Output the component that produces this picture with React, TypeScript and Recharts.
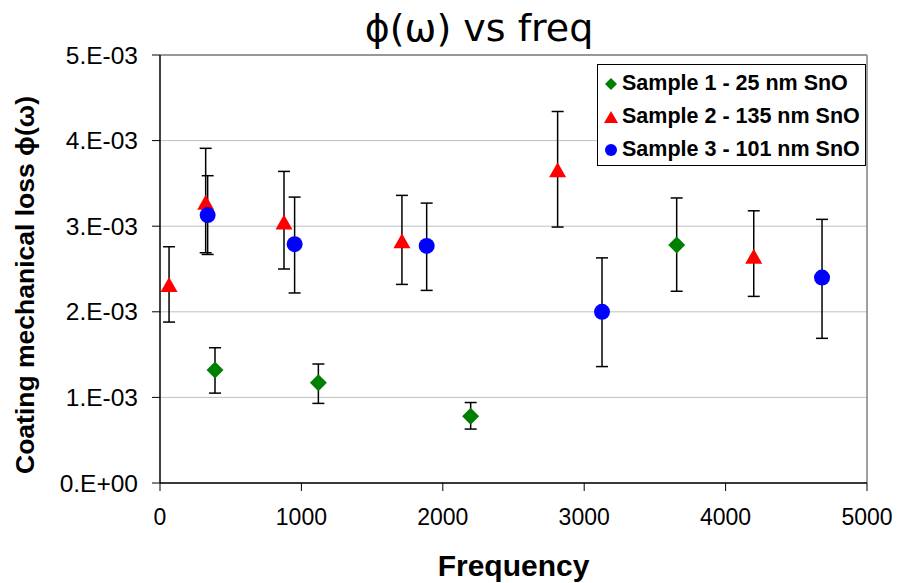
import React from "react";
import {
  CartesianGrid,
  ErrorBar,
  Label,
  ReferenceLine,
  Scatter,
  ScatterChart,
  XAxis,
  YAxis,
} from "recharts";

// Sample 1 - 25 nm SnO
const s1Freq = [389, 1120, 2197, 3654];
const s1Loss = [1.32e-3, 1.17e-3, 0.78e-3, 2.78e-3];
const s1Low = [1.05e-3, 0.93e-3, 0.63e-3, 2.24e-3];
const s1High = [1.58e-3, 1.39e-3, 0.94e-3, 3.33e-3];

// Sample 2 - 135 nm SnO
const s2Freq = [64, 323, 877, 1711, 2812, 4199];
const s2Loss = [2.32e-3, 3.28e-3, 3.05e-3, 2.83e-3, 3.66e-3, 2.65e-3];
const s2Low = [1.88e-3, 2.69e-3, 2.5e-3, 2.32e-3, 2.99e-3, 2.18e-3];
const s2High = [2.76e-3, 3.91e-3, 3.64e-3, 3.36e-3, 4.34e-3, 3.18e-3];

// Sample 3 - 101 nm SnO
const s3Freq = [337, 952, 1886, 3126, 4682];
const s3Loss = [3.13e-3, 2.79e-3, 2.77e-3, 2.0e-3, 2.4e-3];
const s3Low = [2.67e-3, 2.22e-3, 2.25e-3, 1.36e-3, 1.69e-3];
const s3High = [3.59e-3, 3.34e-3, 3.27e-3, 2.63e-3, 3.08e-3];

const xTicks = [0, 1000, 2000, 3000, 4000, 5000];
const yTicks = [0, 0.001, 0.002, 0.003, 0.004, 0.005];

const FONT = "'Liberation Sans', Arial, sans-serif";

type Row = { x: number; y: number; err: [number, number] };

function rows(freq: number[], loss: number[], low: number[], high: number[]): Row[] {
  return freq.map((f, i) => ({
    x: f,
    y: loss[i],
    err: [loss[i] - low[i], high[i] - loss[i]],
  }));
}

const Diamond = ({ cx, cy, r = 8.5, fill }: any) => (
  <path
    d={`M${cx},${cy - r}L${cx + r},${cy}L${cx},${cy + r}L${cx - r},${cy}Z`}
    fill={fill}
  />
);

const Triangle = ({ cx, cy, w = 17, h = 15, fill }: any) => (
  <path
    d={`M${cx},${cy - h / 2}L${cx + w / 2},${cy + h / 2}L${cx - w / 2},${cy + h / 2}Z`}
    fill={fill}
  />
);

const Dot = ({ cx, cy, r = 8, fill }: any) => <circle cx={cx} cy={cy} r={r} fill={fill} />;

const series = [
  { name: "Sample 1 - 25 nm SnO", color: "#008000", Shape: Diamond, data: rows(s1Freq, s1Loss, s1Low, s1High), legend: { r: 6 } },
  { name: "Sample 2 - 135 nm SnO", color: "#ff0000", Shape: Triangle, data: rows(s2Freq, s2Loss, s2Low, s2High), legend: { w: 14, h: 12 } },
  { name: "Sample 3 - 101 nm SnO", color: "#0000ff", Shape: Dot, data: rows(s3Freq, s3Loss, s3Low, s3High), legend: { r: 6 } },
];

const yFmt = (v: number) => (v === 0 ? "0.E+00" : `${Math.round(v * 1000)}.E-03`);

const LegendBox = () => (
  <div
    style={{
      position: "absolute",
      left: 597,
      top: 64,
      border: "1px solid #000",
      background: "#fff",
      width: 269,
      height: 102,
      boxSizing: "border-box",
      padding: "2px 0 0 5px",
      fontFamily: FONT,
      fontWeight: "bold",
      fontSize: 21.5,
      color: "#000",
    }}
  >
    {series.map((s) => (
      <div key={s.name} style={{ display: "flex", alignItems: "center", height: 33 }}>
        <svg width={16} height={16} style={{ marginRight: 3 }}>
          <s.Shape cx={8} cy={8} fill={s.color} {...s.legend} />
        </svg>
        <span>{s.name}</span>
      </div>
    ))}
  </div>
);

const YTitle = ({ viewBox }: any) => {
  const cx = 25;
  const cy = 285;
  return (
    <text
      x={cx}
      y={cy}
      transform={`rotate(-90 ${cx} ${cy})`}
      textAnchor="middle"
      dominantBaseline="central"
      fontFamily={FONT}
      fontWeight="bold"
      fontSize={26.5}
      fill="#000"
    >
      Coating mechanical loss ϕ(ω)
    </text>
  );
};

export default function App() {
  return (
    <div style={{ position: "absolute", left: 0, top: 0, width: 897, height: 583, background: "#fff" }}>
      <div
        style={{
          position: "absolute",
          left: 279,
          width: 400,
          top: 6,
          textAlign: "center",
          fontFamily: "'DejaVu Sans', Verdana, sans-serif",
          fontSize: 38,
          lineHeight: "44px",
          color: "#000",
        }}
      >
        ϕ(ω) vs freq
      </div>
      <ScatterChart width={897} height={583} margin={{ top: 55, right: 30, bottom: 0, left: 0 }}>
        <CartesianGrid horizontal vertical={false} stroke="#c0c0c0" strokeWidth={1} />
        <ReferenceLine y={0.005} stroke="#808080" strokeWidth={1.5} />
        <ReferenceLine x={5000} stroke="#808080" strokeWidth={1.5} />
        <XAxis
          type="number"
          dataKey="x"
          domain={[0, 5000]}
          ticks={xTicks}
          height={100}
          tickSize={8}
          tickMargin={18}
          axisLine={{ stroke: "#000", strokeWidth: 1.5 }}
          tickLine={{ stroke: "#000" }}
          tick={{ fill: "#000", fontSize: 23, fontFamily: FONT }}
          interval={0}
        >
          <Label
            value="Frequency"
            position="insideBottom"
            offset={7}
            style={{ fontFamily: FONT, fontWeight: "bold", fontSize: 30, fill: "#000" }}
          />
        </XAxis>
        <YAxis
          type="number"
          dataKey="y"
          domain={[0, 0.005]}
          ticks={yTicks}
          width={160}
          tickSize={8}
          tickMargin={14}
          tickFormatter={yFmt}
          axisLine={{ stroke: "#000", strokeWidth: 1.5 }}
          tickLine={{ stroke: "#000" }}
          tick={{ fill: "#000", fontSize: 24.5, fontFamily: FONT }}
          interval={0}
        >
          <Label content={<YTitle />} />
        </YAxis>
        {series.map((s) => (
          <Scatter
            key={s.name + "-err"}
            data={s.data}
            fill={s.color}
            legendType="none"
            isAnimationActive={false}
            shape={() => <g />}
          >
            <ErrorBar dataKey="err" direction="y" width={6} stroke="#000" strokeWidth={1.5} />
          </Scatter>
        ))}
        {series.map((s) => (
          <Scatter
            key={s.name}
            name={s.name}
            data={s.data}
            fill={s.color}
            isAnimationActive={false}
            shape={(p: any) => <s.Shape cx={p.cx} cy={p.cy} fill={s.color} />}
          />
        ))}
      </ScatterChart>
      <LegendBox />
    </div>
  );
}
